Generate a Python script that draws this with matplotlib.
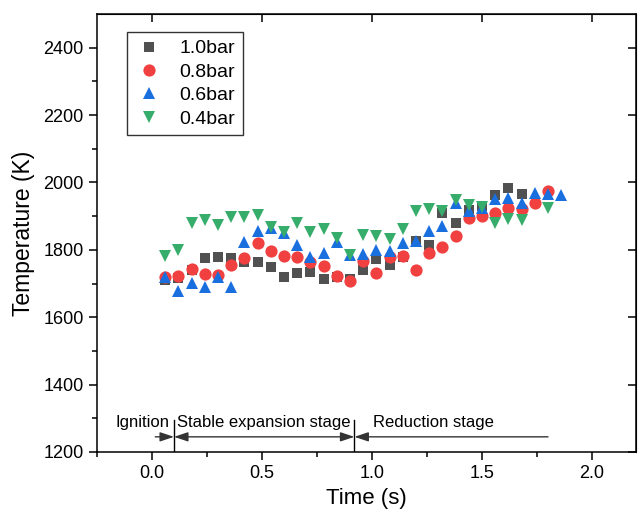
import matplotlib
matplotlib.use("Agg")
import matplotlib.pyplot as plt

plt.rcParams['font.family'] = ['Liberation Sans', 'DejaVu Sans']

t_10 = [0.06, 0.12, 0.18, 0.24, 0.30, 0.36, 0.42, 0.48, 0.54, 0.60, 0.66, 0.72, 0.78, 0.84,
        0.90, 0.96, 1.02, 1.08, 1.14, 1.20, 1.26, 1.32, 1.38, 1.44, 1.50, 1.56, 1.62, 1.68]
T_10 = [1710, 1716, 1740, 1775, 1778, 1775, 1763, 1763, 1749, 1719, 1731, 1735, 1713, 1720,
        1713, 1740, 1773, 1755, 1778, 1826, 1814, 1909, 1880, 1918, 1930, 1962, 1983, 1965]

t_08 = [0.06, 0.12, 0.18, 0.24, 0.30, 0.36, 0.42, 0.48, 0.54, 0.60, 0.66, 0.72, 0.78, 0.84,
        0.90, 0.96, 1.02, 1.08, 1.14, 1.20, 1.26, 1.32, 1.38, 1.44, 1.50, 1.56, 1.62, 1.68,
        1.74, 1.80]
T_08 = [1719, 1722, 1743, 1728, 1725, 1755, 1775, 1820, 1796, 1781, 1778, 1765, 1752, 1723,
        1707, 1766, 1731, 1778, 1781, 1740, 1790, 1808, 1841, 1894, 1900, 1909, 1924, 1921,
        1939, 1974]

t_06 = [0.06, 0.12, 0.18, 0.24, 0.30, 0.36, 0.42, 0.48, 0.54, 0.60, 0.66, 0.72, 0.78, 0.84,
        0.90, 0.96, 1.02, 1.08, 1.14, 1.20, 1.26, 1.32, 1.38, 1.44, 1.50, 1.56, 1.62, 1.68,
        1.74, 1.80, 1.86]
T_06 = [1719, 1677, 1701, 1689, 1719, 1689, 1823, 1855, 1864, 1850, 1814, 1779, 1792, 1824,
        1784, 1789, 1799, 1796, 1820, 1826, 1855, 1870, 1938, 1915, 1924, 1951, 1953, 1939,
        1968, 1965, 1962]

t_04 = [0.06, 0.12, 0.18, 0.24, 0.30, 0.36, 0.42, 0.48, 0.54, 0.60, 0.66, 0.72, 0.78, 0.84,
        0.90, 0.96, 1.02, 1.08, 1.14, 1.20, 1.26, 1.32, 1.38, 1.44, 1.50, 1.56, 1.62, 1.68,
        1.80]
T_04 = [1781, 1799, 1879, 1888, 1873, 1897, 1897, 1903, 1867, 1853, 1879, 1853, 1863, 1834,
        1784, 1844, 1840, 1832, 1861, 1914, 1921, 1915, 1948, 1933, 1927, 1880, 1891, 1888,
        1923]

series_labels = ['1.0bar', '0.8bar', '0.6bar', '0.4bar']
colors = ['#515151', '#F14040', '#1A6FDF', '#37AD6B']
markers = ['s', 'o', '^', 'v']
msizes = [7.8, 8.8, 9.3, 9.3]

stage_bounds = [0.1, 0.92]

fig = plt.figure(figsize=(6.43, 5.16), dpi=100)
ax = fig.add_axes([97 / 643, 64 / 516, 539 / 643, 438 / 516])

data = [(t_10, T_10), (t_08, T_08), (t_06, T_06), (t_04, T_04)]
for (tx, ty), lab, c, m, ms in zip(data, series_labels, colors, markers, msizes):
    ax.plot(tx, ty, linestyle='none', marker=m, color=c, markersize=ms,
            markeredgewidth=0, label=lab)

ax.set_xlim(-0.25, 2.2)
ax.set_ylim(1200, 2500)
ax.set_xticks([0.0, 0.5, 1.0, 1.5, 2.0])
ax.set_xticks([-0.25, 0.25, 0.75, 1.25, 1.75], minor=True)
ax.set_yticks([1200, 1400, 1600, 1800, 2000, 2200, 2400])
ax.set_yticks([1300, 1500, 1700, 1900, 2100, 2300], minor=True)
ax.set_xticklabels(['0.0', '0.5', '1.0', '1.5', '2.0'])

for sp in ax.spines.values():
    sp.set_linewidth(1.1)
ax.tick_params(which='major', direction='out', length=6, width=1.1, labelsize=13)
ax.tick_params(which='minor', direction='out', length=3.5, width=1.1)

secx = ax.secondary_xaxis('top')
secx.set_xticks([0.0, 0.5, 1.0, 1.5, 2.0])
secx.tick_params(direction='in', length=6, width=1.1, labeltop=False)
secx.set_xticklabels([])
secy = ax.secondary_yaxis('right')
secy.set_yticks([1200, 1400, 1600, 1800, 2000, 2200, 2400])
secy.tick_params(direction='in', length=6, width=1.1, labelright=False)
secy.set_yticklabels([])

ax.set_xlabel('Time (s)', fontsize=16, labelpad=4)
ax.set_ylabel('Temperature (K)', fontsize=16.5, labelpad=6)

# stage annotations
for xb in stage_bounds:
    ax.plot([xb, xb], [1200, 1295], color='black', linewidth=1)
ap = dict(arrowstyle='-|>,head_length=0.6,head_width=0.2', color='0.2', lw=1,
          mutation_scale=14, shrinkA=0, shrinkB=0)
ax.annotate('', xy=(0.1, 1245), xytext=(0.015, 1245), arrowprops=ap)
ax.annotate('', xy=(0.92, 1245), xytext=(0.1, 1245),
            arrowprops=dict(arrowstyle='<|-|>,head_length=0.6,head_width=0.2', color='0.2',
                            lw=1, mutation_scale=14, shrinkA=0, shrinkB=0))
ax.annotate('', xy=(0.92, 1245), xytext=(1.8, 1245), arrowprops=ap)
ax.text(-0.044, 1274, 'Ignition', ha='center', va='baseline', fontsize=12)
ax.text(0.507, 1274, 'Stable expansion stage', ha='center', va='baseline', fontsize=12)
ax.text(1.004, 1274, 'Reduction stage', ha='left', va='baseline', fontsize=12)

leg = ax.legend(loc='upper left', bbox_to_anchor=(0.056, 0.959), borderaxespad=0,
                fontsize=14, frameon=True, fancybox=False, handletextpad=0.9,
                labelspacing=0.3, borderpad=0.4, handlelength=1.4)
leg.get_frame().set_edgecolor('black')
leg.get_frame().set_linewidth(1)

fig.savefig('out.png', dpi=100)
